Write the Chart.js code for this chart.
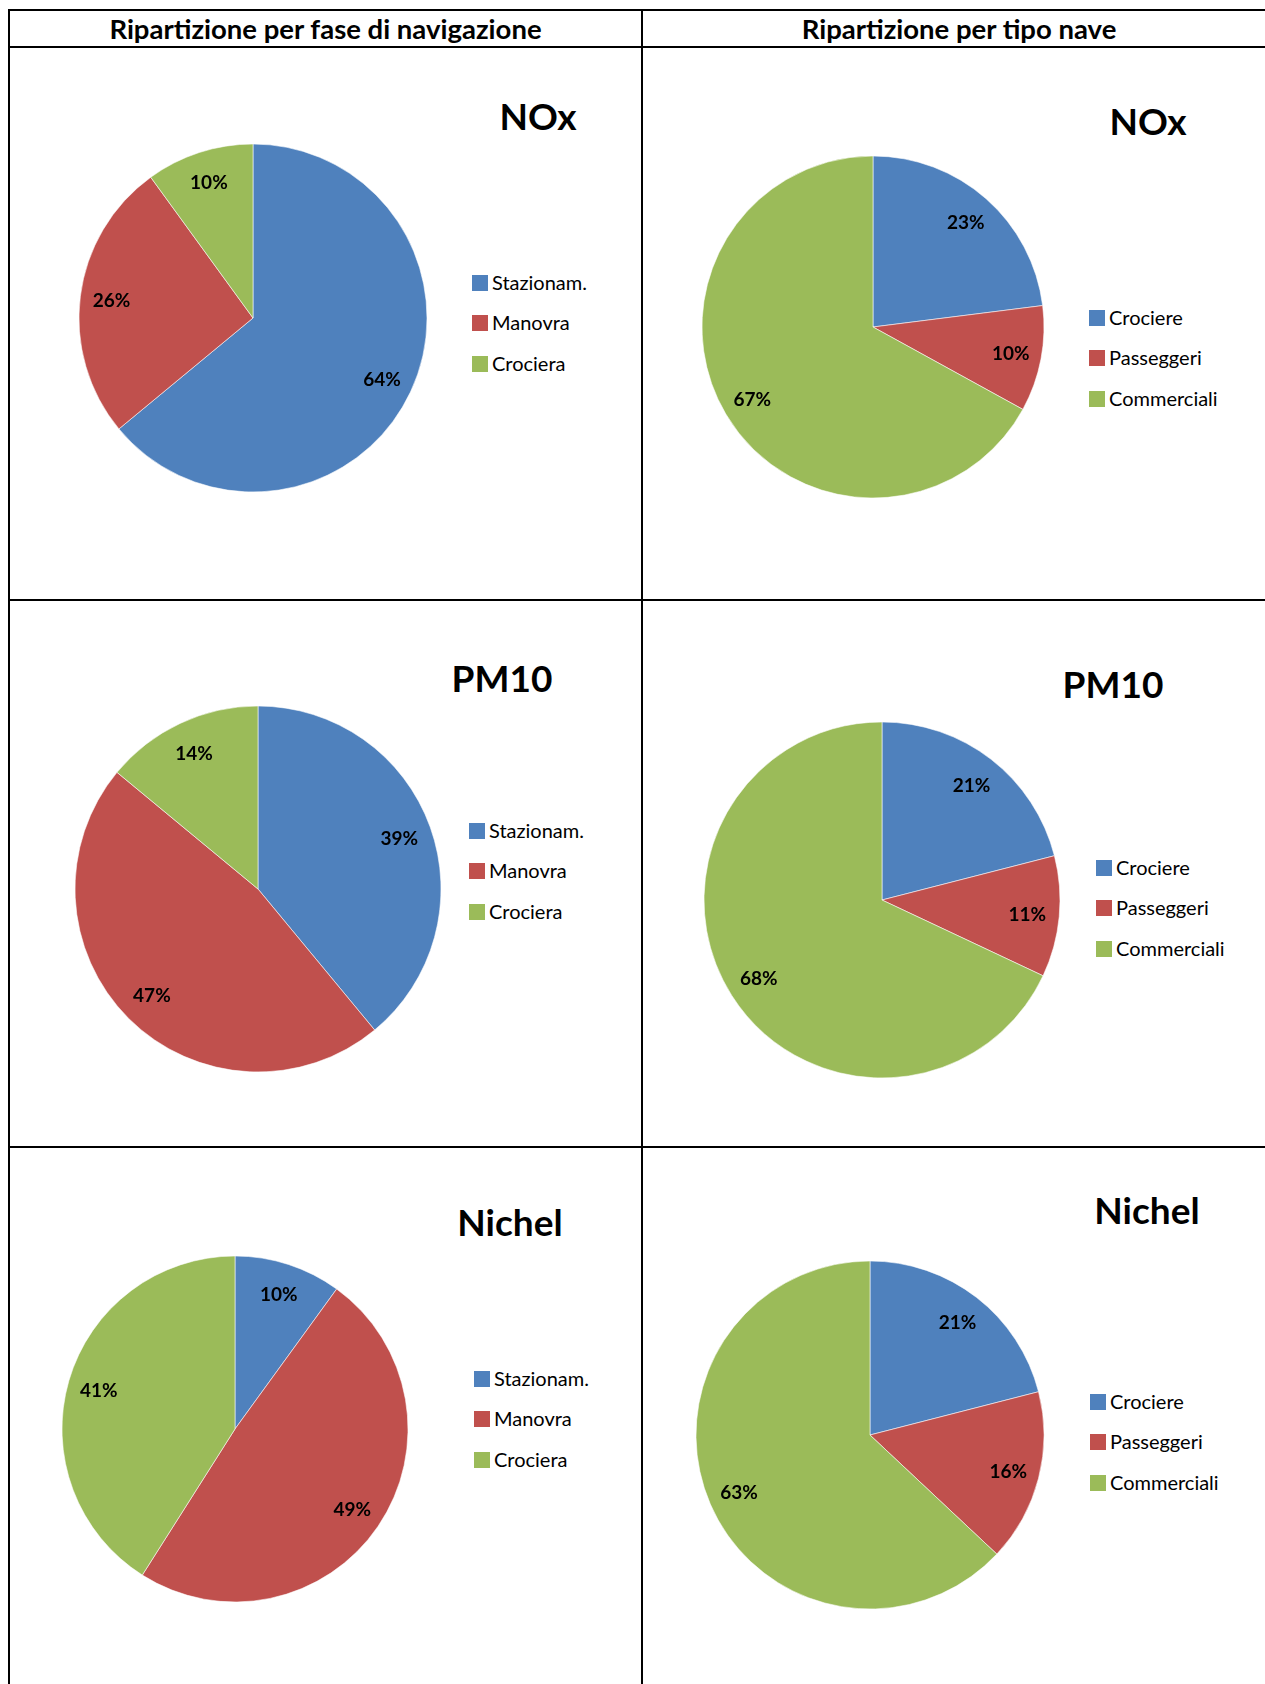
<!DOCTYPE html>
<html>
<head>
<meta charset="utf-8">
<script src="https://cdn.jsdelivr.net/npm/chart.js@4.4.1/dist/chart.umd.min.js"></script>
<style>
  body { margin: 0; background: #fff; font-family: Lato, "Open Sans", sans-serif; }
  #page { position: relative; width: 1265px; height: 1684px; overflow: hidden; background: #fff; }
  .rule { position: absolute; background: #000; }
  .head { position: absolute; top: 11px; height: 35px; line-height: 35px; text-align: center;
          font-weight: bold; font-size: 27.5px; color: #000; white-space: nowrap; }
  .title { position: absolute; font-weight: bold; font-size: 37px; line-height: 1;
           transform: translate(-50%, -50%); white-space: nowrap; color: #000; }
  .pie { position: absolute; }
  .legend-item { position: absolute; height: 16px; white-space: nowrap; font-size: 20px; color: #000; }
  .legend-item span.box { position: absolute; left: 0; top: 0; width: 16px; height: 16px; }
  .legend-item span.txt { position: absolute; left: 20px; top: -6px; line-height: 26px; }
</style>
</head>
<body>
<div id="page"></div>
<script>
  // categories
  const fasi = ['Stazionam.', 'Manovra', 'Crociera'];
  const tipi = ['Crociere', 'Passeggeri', 'Commerciali'];

  // percentages per pollutant
  const noxFase = [64, 26, 10];
  const pm10Fase = [39, 47, 14];
  const nichelFase = [10, 49, 41];
  const noxTipo = [23, 10, 67];
  const pm10Tipo = [21, 11, 68];
  const nichelTipo = [21, 16, 63];

  const colori = ['#4F81BD', '#C0504D', '#9BBB59'];
  const intestazioni = ['Ripartizione per fase di navigazione', 'Ripartizione per tipo nave'];

  const page = document.getElementById('page');

  // table grid
  const rules = [
    [8, 9, 1257, 2], [8, 46, 1257, 2], [8, 599, 1257, 2], [8, 1146, 1257, 2],
    [8, 9, 2, 1675], [641, 9, 2, 1675]
  ];
  rules.forEach(function(r) {
    const d = document.createElement('div');
    d.className = 'rule';
    d.style.left = r[0] + 'px';
    d.style.top = r[1] + 'px';
    d.style.width = r[2] + 'px';
    d.style.height = r[3] + 'px';
    page.appendChild(d);
  });

  const heads = [[10, 631], [643, 632]];
  intestazioni.forEach(function(t, i) {
    const h = document.createElement('div');
    h.className = 'head';
    h.style.left = heads[i][0] + 'px';
    h.style.width = heads[i][1] + 'px';
    h.textContent = t;
    page.appendChild(h);
  });

  const panels = [
    { title: 'NOx', labels: fasi, values: noxFase, cx: 253, cy: 318, r: 174, tx: 538, ty: 115, lx: 472, ly: 283 },
    { title: 'NOx', labels: tipi, values: noxTipo, cx: 873, cy: 327, r: 171, tx: 1148, ty: 120, lx: 1089, ly: 318 },
    { title: 'PM10', labels: fasi, values: pm10Fase, cx: 258, cy: 889, r: 183, tx: 502, ty: 677, lx: 469, ly: 831 },
    { title: 'PM10', labels: tipi, values: pm10Tipo, cx: 882, cy: 900, r: 178, tx: 1113, ty: 683, lx: 1096, ly: 868 },
    { title: 'Nichel', labels: fasi, values: nichelFase, cx: 235, cy: 1429, r: 173, tx: 510, ty: 1221, lx: 474, ly: 1379 },
    { title: 'Nichel', labels: tipi, values: nichelTipo, cx: 870, cy: 1435, r: 174, tx: 1147, ty: 1209, lx: 1090, ly: 1402 }
  ];

  // percentage labels placed inside each slice, near the rim
  const sliceLabels = {
    id: 'sliceLabels',
    afterDatasetsDraw(chart) {
      const ctx = chart.ctx;
      const meta = chart.getDatasetMeta(0);
      const values = chart.data.datasets[0].data;
      ctx.save();
      ctx.font = 'bold 19px Lato';
      ctx.fillStyle = '#000';
      ctx.textAlign = 'center';
      ctx.textBaseline = 'middle';
      meta.data.forEach(function(arc, i) {
        const mid = (arc.startAngle + arc.endAngle) / 2;
        const d = arc.outerRadius * 0.82;
        ctx.fillText(values[i] + '%', arc.x + Math.cos(mid) * d, arc.y + Math.sin(mid) * d + 1);
      });
      ctx.restore();
    }
  };

  panels.forEach(function(p) {
    const size = 2 * p.r + 10;
    const canvas = document.createElement('canvas');
    canvas.className = 'pie';
    canvas.width = size;
    canvas.height = size;
    canvas.style.left = (p.cx - size / 2) + 'px';
    canvas.style.top = (p.cy - size / 2) + 'px';
    canvas.style.width = size + 'px';
    canvas.style.height = size + 'px';
    page.appendChild(canvas);

    new Chart(canvas, {
      type: 'pie',
      data: {
        labels: p.labels,
        datasets: [{
          data: p.values,
          backgroundColor: colori,
          borderColor: 'rgba(255,255,255,0.7)',
          borderWidth: 0.8
        }]
      },
      options: {
        responsive: false,
        animation: false,
        radius: p.r,
        layout: { padding: 0 },
        plugins: {
          legend: { display: false },
          tooltip: { enabled: false }
        }
      },
      plugins: [sliceLabels]
    });

    const t = document.createElement('div');
    t.className = 'title';
    t.style.left = p.tx + 'px';
    t.style.top = p.ty + 'px';
    t.textContent = p.title;
    page.appendChild(t);

    p.labels.forEach(function(lab, i) {
      const item = document.createElement('div');
      item.className = 'legend-item';
      item.style.left = p.lx + 'px';
      item.style.top = (p.ly - 8 + i * 40.4) + 'px';
      item.innerHTML = '<span class="box" style="background:' + colori[i] + '"></span><span class="txt"></span>';
      item.querySelector('.txt').textContent = lab;
      page.appendChild(item);
    });
  });
</script>
</body>
</html>
